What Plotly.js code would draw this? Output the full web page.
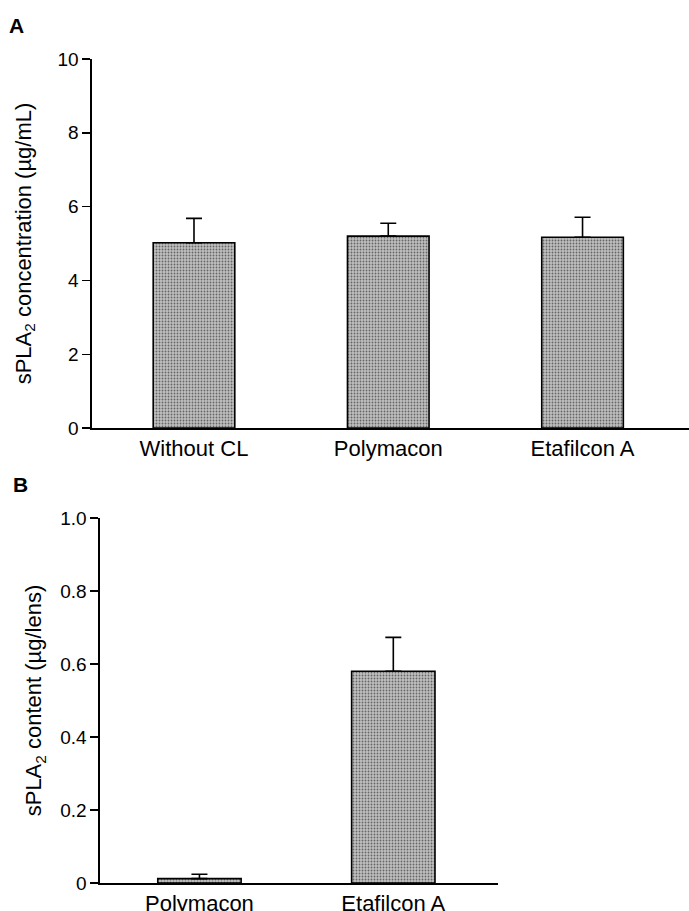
<!DOCTYPE html>
<html>
<head>
<meta charset="utf-8">
<script src="https://cdn.plot.ly/plotly-3.0.1.min.js"></script>
<style>html,body{margin:0;padding:0;background:#fff;}#chart{width:689px;height:911px;}</style>
</head>
<body>
<div id="chart"></div>
<script>
// Panel A: sPLA2 concentration in tear fluid (µg/mL)
const categoriesA = ["Without CL", "Polymacon", "Etafilcon A"];
const valuesA = [5.02, 5.20, 5.17];
const errorsA = [0.66, 0.35, 0.54];
const ticksA = [0, 2, 4, 6, 8, 10];
const tickLabelsA = ["0", "2", "4", "6", "8", "10"];

// Panel B: sPLA2 content on lens (µg/lens)
const categoriesB = ["Polymacon", "Etafilcon A"];
const valuesB = [0.012, 0.58];
const errorsB = [0.012, 0.093];
const ticksB = [0, 0.2, 0.4, 0.6, 0.8, 1.0];
const tickLabelsB = ["0", "0.2", "0.4", "0.6", "0.8", "1.0"];

const FONT = "Liberation Sans, Arial, Helvetica, sans-serif";

const barMarker = {
  color: "#b8b8b8",
  pattern: { shape: ".", fgcolor: "#666666", bgcolor: "#c0c0c0", size: 3, solidity: 0.3 },
  line: { color: "#000", width: 1.6 }
};

const traceA = {
  type: "bar", x: categoriesA, y: valuesA, xaxis: "x", yaxis: "y",
  width: 0.42, marker: barMarker,
  error_y: { type: "data", symmetric: false, array: errorsA, arrayminus: errorsA.map(() => 0),
             color: "#000", thickness: 1.6, width: 8 },
  hoverinfo: "x+y", showlegend: false
};
const traceB = {
  type: "bar", x: categoriesB, y: valuesB, xaxis: "x2", yaxis: "y2",
  width: 0.43, marker: barMarker,
  error_y: { type: "data", symmetric: false, array: errorsB, arrayminus: errorsB.map(() => 0),
             color: "#000", thickness: 1.6, width: 8 },
  hoverinfo: "x+y", showlegend: false
};

const W = 689, H = 911;
const layout = {
  width: W, height: H,
  margin: { l: 0, r: 0, t: 0, b: 0 },
  paper_bgcolor: "#fff", plot_bgcolor: "rgba(0,0,0,0)",
  font: { family: FONT, color: "#000", size: 19 },
  showlegend: false,
  xaxis: {
    domain: [92 / W, 1], anchor: "y", range: [-0.525, 2.548],
    showline: true, linecolor: "#000", linewidth: 1.6, ticks: "", ticklen: 0, showgrid: false, zeroline: false,
    tickfont: { family: FONT, size: 22, color: "#000" }
  },
  yaxis: {
    domain: [1 - 428 / H, 1 - 59 / H], anchor: "x", range: [0, 10],
    tickvals: ticksA, ticktext: tickLabelsA,
    showline: true, linecolor: "#000", linewidth: 1.6, ticks: "outside", ticklen: 8, tickwidth: 1.4, tickcolor: "#000",
    showgrid: false, zeroline: false,
    tickfont: { family: FONT, size: 19, color: "#000" },
    title: { text: "sPLA<sub>2</sub> concentration (µg/mL)", font: { family: FONT, size: 22, color: "#000" }, standoff: 20 }
  },
  xaxis2: {
    domain: [100 / W, 498 / W], anchor: "y2", range: [-0.513, 1.54],
    showline: true, linecolor: "#000", linewidth: 1.6, ticks: "", ticklen: 0, showgrid: false, zeroline: false,
    tickfont: { family: FONT, size: 22, color: "#000" }
  },
  yaxis2: {
    domain: [1 - 883 / H, 1 - 518 / H], anchor: "x2", range: [0, 1.0],
    tickvals: ticksB, ticktext: tickLabelsB,
    showline: true, linecolor: "#000", linewidth: 1.6, ticks: "outside", ticklen: 8, tickwidth: 1.4, tickcolor: "#000",
    showgrid: false, zeroline: false,
    tickfont: { family: FONT, size: 19, color: "#000" },
    title: { text: "sPLA<sub>2</sub> content (µg/lens)", font: { family: FONT, size: 22, color: "#000" }, standoff: 12 }
  },
  annotations: [
    { text: "<b>A</b>", xref: "paper", yref: "paper", x: 16.5 / W, y: 1 - 25.5 / H, xanchor: "center", yanchor: "middle",
      showarrow: false, font: { family: FONT, size: 21, color: "#000" } },
    { text: "<b>B</b>", xref: "paper", yref: "paper", x: 20.5 / W, y: 1 - 484 / H, xanchor: "center", yanchor: "middle",
      showarrow: false, font: { family: FONT, size: 21, color: "#000" } }
  ]
};

Plotly.newPlot("chart", [traceA, traceB], layout, { staticPlot: true, displayModeBar: false });
</script>
</body>
</html>
